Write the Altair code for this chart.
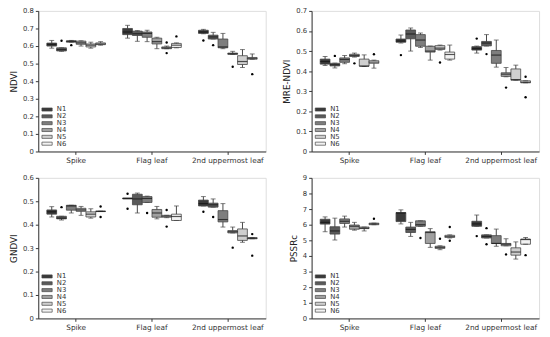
import altair as alt
import pandas as pd

parts = ["Spike", "Flag leaf", "2nd uppermost leaf"]
levels = ["N1", "N2", "N3", "N4", "N5", "N6"]
grays = ["#3a3a3a", "#5a5a5a", "#7e7e7e", "#a0a0a0", "#cfcfcf", "#f2f2f2"]

# [whisker low, q1, median, q3, whisker high] for parts x levels
ndvi_stats = [
    [0.588, 0.600, 0.610, 0.617, 0.632],
    [0.570, 0.572, 0.580, 0.590, 0.590],
    [0.622, 0.622, 0.627, 0.630, 0.632],
    [0.600, 0.610, 0.618, 0.628, 0.630],
    [0.588, 0.595, 0.605, 0.612, 0.622],
    [0.605, 0.608, 0.612, 0.618, 0.625],
    [0.645, 0.665, 0.680, 0.700, 0.718],
    [0.627, 0.660, 0.670, 0.685, 0.688],
    [0.625, 0.650, 0.672, 0.680, 0.690],
    [0.585, 0.612, 0.625, 0.645, 0.650],
    [0.585, 0.585, 0.590, 0.595, 0.600],
    [0.590, 0.592, 0.605, 0.615, 0.618],
    [0.670, 0.672, 0.680, 0.690, 0.695],
    [0.640, 0.640, 0.652, 0.662, 0.678],
    [0.585, 0.590, 0.595, 0.640, 0.672],
    [0.553, 0.553, 0.556, 0.560, 0.570],
    [0.478, 0.495, 0.512, 0.545, 0.580],
    [0.525, 0.525, 0.530, 0.535, 0.555],
]
ndvi_out = [[0, 1, 0.630], [0, 2, 0.605], [1, 4, 0.620], [1, 4, 0.560], [1, 5, 0.655],
            [2, 0, 0.632], [2, 1, 0.605], [2, 3, 0.482], [2, 5, 0.440]]

mre_stats = [
    [0.428, 0.435, 0.448, 0.460, 0.473],
    [0.416, 0.426, 0.432, 0.439, 0.440],
    [0.437, 0.444, 0.458, 0.466, 0.478],
    [0.470, 0.473, 0.478, 0.484, 0.490],
    [0.423, 0.425, 0.425, 0.460, 0.481],
    [0.415, 0.439, 0.445, 0.452, 0.455],
    [0.540, 0.544, 0.550, 0.560, 0.580],
    [0.500, 0.561, 0.585, 0.605, 0.615],
    [0.518, 0.524, 0.555, 0.582, 0.590],
    [0.455, 0.495, 0.500, 0.524, 0.525],
    [0.505, 0.508, 0.515, 0.527, 0.530],
    [0.455, 0.460, 0.483, 0.495, 0.530],
    [0.490, 0.505, 0.512, 0.522, 0.525],
    [0.525, 0.526, 0.540, 0.548, 0.582],
    [0.420, 0.439, 0.480, 0.503, 0.555],
    [0.372, 0.374, 0.385, 0.392, 0.418],
    [0.355, 0.355, 0.358, 0.411, 0.430],
    [0.342, 0.342, 0.345, 0.352, 0.352],
]
mre_out = [[0, 1, 0.476], [0, 3, 0.439], [0, 5, 0.484], [1, 0, 0.480], [1, 4, 0.443],
           [2, 0, 0.562], [2, 1, 0.485], [2, 3, 0.318], [2, 5, 0.372], [2, 5, 0.270]]

gndvi_stats = [
    [0.433, 0.445, 0.455, 0.463, 0.477],
    [0.420, 0.425, 0.428, 0.436, 0.436],
    [0.450, 0.462, 0.480, 0.483, 0.483],
    [0.440, 0.457, 0.463, 0.470, 0.478],
    [0.428, 0.433, 0.445, 0.455, 0.468],
    [0.457, 0.456, 0.457, 0.458, 0.457],
    [0.512, 0.510, 0.512, 0.514, 0.512],
    [0.450, 0.485, 0.510, 0.530, 0.535],
    [0.495, 0.495, 0.512, 0.520, 0.522],
    [0.425, 0.432, 0.450, 0.465, 0.478],
    [0.430, 0.432, 0.436, 0.440, 0.440],
    [0.418, 0.418, 0.435, 0.445, 0.480],
    [0.480, 0.480, 0.490, 0.505, 0.520],
    [0.475, 0.475, 0.485, 0.492, 0.510],
    [0.390, 0.412, 0.422, 0.460, 0.490],
    [0.365, 0.365, 0.370, 0.375, 0.390],
    [0.325, 0.333, 0.352, 0.382, 0.410],
    [0.340, 0.340, 0.342, 0.345, 0.345],
]
gndvi_out = [[0, 1, 0.475], [0, 5, 0.478], [0, 5, 0.433], [1, 0, 0.532], [1, 0, 0.468],
             [1, 2, 0.450], [1, 4, 0.463], [1, 4, 0.392], [2, 0, 0.455], [2, 1, 0.433],
             [2, 3, 0.302], [2, 5, 0.360], [2, 5, 0.268]]

pssrc_stats = [
    [5.55, 6.04, 6.15, 6.35, 6.50],
    [5.02, 5.40, 5.60, 5.87, 6.42],
    [5.85, 6.08, 6.22, 6.37, 6.55],
    [5.65, 5.71, 5.90, 5.98, 6.15],
    [5.60, 5.75, 5.78, 5.85, 5.85],
    [6.00, 6.00, 6.05, 6.10, 6.10],
    [6.05, 6.20, 6.75, 6.78, 6.95],
    [5.25, 5.50, 5.70, 5.85, 6.15],
    [5.90, 5.90, 6.00, 6.25, 6.25],
    [4.55, 4.80, 5.50, 5.55, 5.75],
    [4.40, 4.48, 4.55, 4.62, 4.65],
    [5.15, 5.18, 5.25, 5.32, 5.35],
    [5.90, 5.90, 6.05, 6.22, 6.62],
    [5.15, 5.15, 5.25, 5.35, 5.35],
    [4.62, 4.80, 4.80, 5.30, 5.72],
    [4.65, 4.65, 4.75, 4.80, 5.10],
    [3.80, 4.05, 4.25, 4.52, 4.90],
    [4.75, 4.75, 5.05, 5.08, 5.18],
]
pssrc_out = [[0, 5, 6.38], [1, 2, 5.15], [1, 4, 5.10], [1, 5, 5.85], [1, 5, 4.97],
             [2, 0, 5.27], [2, 1, 5.78], [2, 1, 4.75], [2, 3, 4.10], [2, 5, 4.05]]

ndvi_ticks = [0, 0.1, 0.2, 0.3, 0.4, 0.5, 0.6, 0.7, 0.8]
mre_ticks = [0, 0.1, 0.2, 0.3, 0.4, 0.5, 0.6, 0.7]
gndvi_ticks = [0, 0.1, 0.2, 0.3, 0.4, 0.5, 0.6]
pssrc_ticks = [0, 1, 2, 3, 4, 5, 6, 7, 8, 9]

EDGE = "#444444"


def panel(stats, outliers, title, ticks, label_expr):
    rows = []
    for i, s in enumerate(stats):
        rows.append(dict(part=parts[i // 6], level=levels[i % 6],
                         lo=s[0], q1=s[1], med=s[2], q3=s[3], hi=s[4]))
    df = pd.DataFrame(rows)
    out = pd.DataFrame([dict(part=parts[a], level=levels[b], v=v) for a, b, v in outliers])

    x = alt.X("part:N", sort=parts,
              scale=alt.Scale(paddingInner=0, paddingOuter=0),
              axis=alt.Axis(title=None, labelAngle=0, labelFontSize=7.5, tickSize=3,
                            labelPadding=2, labelColor="#333", domainColor="#333",
                            tickColor="#333"))
    xo = alt.XOffset("level:N", sort=levels,
                     scale=alt.Scale(paddingInner=0, paddingOuter=0.88))
    yscale = alt.Scale(domain=[ticks[0], ticks[-1]], nice=False, zero=True)
    yaxis = alt.Axis(title=title, values=ticks, labelExpr=label_expr, labelFontSize=7,
                     titleFontSize=9, titleFontWeight="normal", tickSize=3,
                     labelPadding=2, titlePadding=4, labelColor="#333", titleColor="#222",
                     domainColor="#333", tickColor="#333", grid=False)

    def Y(f):
        return alt.Y(f, scale=yscale, axis=yaxis, title=title)

    base = alt.Chart(df).encode(x=x, xOffset=xo)
    whisk = base.mark_rule(color=EDGE, strokeWidth=1).encode(y=Y("lo:Q"), y2="hi:Q")
    box = base.mark_bar(stroke=EDGE, strokeWidth=0.8, opacity=1).encode(
        y=Y("q1:Q"), y2="q3:Q",
        color=alt.Color("level:N", sort=levels,
                        scale=alt.Scale(domain=levels, range=grays),
                        legend=alt.Legend(title=None, orient="bottom-left", offset=5,
                                          symbolType="M-1.5,-0.45H1.5V0.45H-1.5Z",
                                          symbolSize=49, symbolStrokeColor=EDGE,
                                          symbolStrokeWidth=0.7, symbolOpacity=1,
                                          labelFontSize=7, labelColor="#333",
                                          rowPadding=0, labelOffset=6)))
    cap_lo = base.mark_tick(color=EDGE, size=5, thickness=1).encode(y=Y("lo:Q"))
    cap_hi = base.mark_tick(color=EDGE, size=5, thickness=1).encode(y=Y("hi:Q"))
    med = base.mark_tick(color="#111", size=10, thickness=1.2).encode(y=Y("med:Q"))
    pts = alt.Chart(out).mark_circle(size=6, color="black", opacity=1).encode(
        x=x, xOffset=xo, y=Y("v:Q"))
    return alt.layer(whisk, box, cap_lo, cap_hi, med, pts).properties(width=233, height=144)


dec = "datum.value == 0 ? '0' : format(datum.value, '.1f')"
p1 = panel(ndvi_stats, ndvi_out, "NDVI", ndvi_ticks, dec)
p2 = panel(mre_stats, mre_out, "MRE-NDVI", mre_ticks, dec)
p3 = panel(gndvi_stats, gndvi_out, "GNDVI", gndvi_ticks, dec)
p4 = panel(pssrc_stats, pssrc_out, "PSSRc", pssrc_ticks, "format(datum.value, 'd')")

chart = alt.concat(p1, p2, p3, p4, columns=2, spacing={"row": 9, "column": 16}).resolve_scale(
    color="independent").resolve_legend(color="independent").properties(
    padding={"left": 1, "top": -6, "right": 2, "bottom": 0}
).configure_view(stroke=None).configure(font="DejaVu Sans", background="white")

chart.save("out.html", embed_options={"renderer": "svg", "actions": False})
